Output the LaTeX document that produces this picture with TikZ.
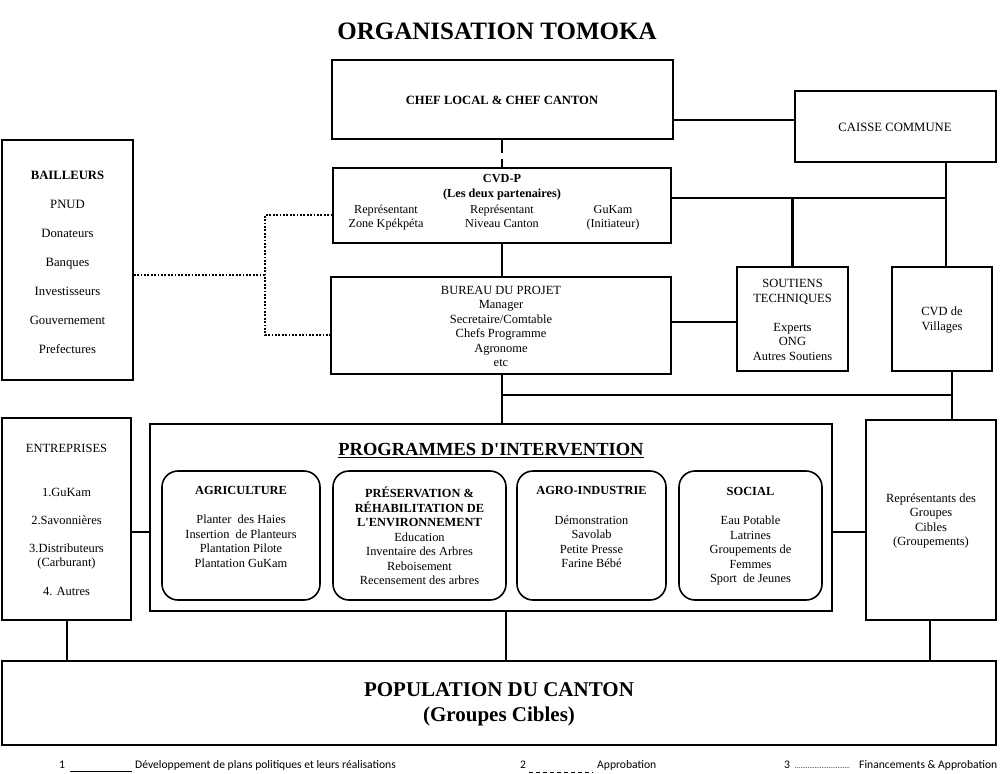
\documentclass[tikz,border=0pt]{standalone}
\usepackage{fontspec}
\setmainfont{Liberation Serif}[Ligatures=TeXOff]
\newfontfamily\legfont{Carlito}
\begin{document}
\begin{tikzpicture}[x=1pt,y=-1pt,
  box/.style={draw, line width=1.4pt, inner sep=0pt},
  rbox/.style={draw, line width=1.6pt, rounded corners=16pt, inner sep=0pt, minimum height=129pt},
  txt/.style={align=center, inner sep=0pt, font=\fontsize{12.5}{14.5}\selectfont},
  rtxt/.style={align=center, inner sep=0pt, font=\fontsize{12.4}{14.5}\selectfont},
  ctxt/.style={inner sep=0pt, anchor=base, font=\fontsize{12.2}{14.5}\selectfont},
  conn/.style={line width=2.6pt},
  thin/.style={line width=1.4pt},
  dotline/.style={line width=2.8pt, dash pattern=on 1.8pt off 1.6pt},
  leg/.style={inner sep=0pt, anchor=base west, font=\legfont\fontsize{11.6}{13}\selectfont}]
\useasboundingbox (0,0) rectangle (1000,773);
\fill[white] (0,0) rectangle (1000,773);

% title
\node[inner sep=0pt, font=\bfseries\fontsize{25}{30}\selectfont] (title) at (497,31) {ORGANISATION TOMOKA};

% boxes
\node[box, minimum width=341pt, minimum height=79pt] (chef) at (502.5,99.5) {};
\node[box, minimum width=201pt, minimum height=71pt] (caisse) at (895.5,126.5) {};
\node[box, minimum width=338pt, minimum height=75pt] (cvdp) at (502,205.5) {};
\node[box, minimum width=131pt, minimum height=240pt] (bail) at (67.5,260) {};
\node[box, minimum width=340pt, minimum height=97pt] (bureau) at (501,325.5) {};
\node[box, minimum width=111pt, minimum height=104pt] (sout) at (792.5,319) {};
\node[box, minimum width=100pt, minimum height=104pt] (cvdv) at (942,319) {};
\node[box, minimum width=129pt, minimum height=202pt] (entr) at (66.5,519) {};
\node[box, minimum width=682pt, minimum height=187pt] (prog) at (491,517.5) {};
\node[box, minimum width=130pt, minimum height=200pt] (repr) at (931,520) {};
\node[box, minimum width=994pt, minimum height=84pt] (pop) at (499,703) {};
\node[rbox, minimum width=158pt] (agri) at (241,535.5) {};
\node[rbox, minimum width=173pt] (pres) at (419.5,535.5) {};
\node[rbox, minimum width=149pt] (agro) at (591.5,535.5) {};
\node[rbox, minimum width=143pt] (soc) at (750.5,535.5) {};

% texts
\node[txt, font=\bfseries\fontsize{12.6}{14}\selectfont] (tchef) at (502,100) {CHEF LOCAL \& CHEF CANTON};
\node[txt, font=\fontsize{12.7}{14.5}\selectfont] (tcaisse) at (895,127) {CAISSE COMMUNE};
\node[txt, font=\bfseries\fontsize{12.3}{14.5}\selectfont] (tcvdp) at (502,187) {CVD-P\\(Les deux partenaires)};
\node[ctxt] (tc1a) at (386,213) {Représentant};
\node[ctxt] (tc1b) at (386,227.5) {Zone Kpékpéta};
\node[ctxt] (tc2a) at (502,213) {Représentant};
\node[ctxt] (tc2b) at (502,227.5) {Niveau Canton};
\node[ctxt] (tc3a) at (613,213) {GuKam};
\node[ctxt] (tc3b) at (613,227.5) {(Initiateur)};
\node[txt, font=\fontsize{12.7}{29}\selectfont] (tbail) at (67.5,262) {\textbf{BAILLEURS}\\PNUD\\Donateurs\\Banques\\Investisseurs\\Gouvernement\\Prefectures};
\node[txt] (tbureau) at (501,326.5) {BUREAU DU PROJET\\Manager\\Secretaire/Comtable\\Chefs Programme\\Agronome\\etc};
\node[txt] (tsout) at (792.5,320) {SOUTIENS\\TECHNIQUES\\[14.5pt]Experts\\ONG\\Autres Soutiens};
\node[txt] (tcvdv) at (942,320) {CVD de\\Villages};
\node[txt] (tentr) at (66.5,520) {ENTREPRISES\\[29.5pt]1.GuKam\\[13.5pt]2.Savonnières\\[13.5pt]3.Distributeurs\\(Carburant)\\[14.5pt]4. Autres};
\node[txt] (trepr) at (931,521) {Représentants des\\Groupes\\Cibles\\(Groupements)};
\node[inner sep=0pt, font=\bfseries\fontsize{18.5}{22}\selectfont] (tprog) at (491,451) {\underline{PROGRAMMES D'INTERVENTION}};
\node[txt, font=\bfseries\fontsize{21}{25}\selectfont] (tpop) at (499,704.5) {POPULATION DU CANTON\\(Groupes Cibles)};

\node[rtxt] (tagri) at (241,526.5) {\textbf{AGRICULTURE}\\[15pt]Planter\ \ des Haies\\Insertion\ \ de Planteurs\\Plantation Pilote\\Plantation GuKam};
\node[rtxt] (tpres) at (419.5,536) {\textbf{PRÉSERVATION \&}\\\textbf{RÉHABILITATION DE}\\\textbf{L'ENVIRONNEMENT}\\Education\\Inventaire des Arbres\\Reboisement\\Recensement des arbres};
\node[rtxt] (tagro) at (591.5,527) {\textbf{AGRO-INDUSTRIE}\\[15pt]Démonstration\\Savolab\\Petite Presse\\Farine Bébé};
\node[rtxt] (tsoc) at (750.5,536.5) {\textbf{SOCIAL}\\[14.5pt]Eau Potable\\Latrines\\Groupements de\\Femmes\\Sport\ \ de Jeunes};

% connectors
\draw[conn, dash pattern=on 13pt off 6pt] (chef.south -| 502,0) -- (cvdp.north -| 502,0);
\draw[conn] (chef.east |- 0,120) -- (caisse.west |- 0,120);
\draw[conn] (cvdp.east |- 0,198) -- (946,198);
\draw[conn] (caisse.south -| 946,0) -- (cvdv.north -| 946,0);
\draw[conn] (sout.north |- 0,198) -- (sout.north);
\draw[conn] (cvdp.south -| 502,0) -- (bureau.north -| 502,0);
\draw[conn] (bureau.east |- 0,322) -- (sout.west |- 0,322);
\draw[conn] (bureau.south -| 502,0) -- (prog.north -| 502,0);
\draw[conn] (502,395) -- (952,395);
\draw[conn] (cvdv.south -| 952,0) -- (repr.north -| 952,0);
\draw[thin] (entr.east |- 0,532) -- (prog.west |- 0,532);
\draw[thin] (prog.east |- 0,532) -- (repr.west |- 0,532);
\draw[thin] (entr.south -| 67,0) -- (pop.north -| 67,0);
\draw[thin] (prog.south -| 506,0) -- (pop.north -| 506,0);
\draw[thin] (repr.south -| 930,0) -- (pop.north -| 930,0);

\draw[dotline] (bail.east |- 0,275) -- (265,275);
\draw[dotline] (cvdp.west |- 0,215) -- (265,215) -- (265,335) -- (bureau.west |- 0,335);

% legend
\node[leg] (l1) at (59,768) {1};
\draw[line width=1pt] (70,771) -- (132,771);
\node[leg] (l1t) at (135,768) {Développement de plans politiques et leurs réalisations};
\node[leg] (l2) at (520,768) {2};
\draw[line width=1pt, dash pattern=on 4pt off 3pt] (529,772) -- (593,772);
\node[leg] (l2t) at (597,768) {Approbation};
\node[leg] (l3) at (784,768) {3};
\node[leg, font=\legfont\fontsize{7}{8}\selectfont] (l3d) at (795,768) {...............................};
\node[leg] (l3t) at (859,768) {Financements \& Approbation};
\end{tikzpicture}
\end{document}
